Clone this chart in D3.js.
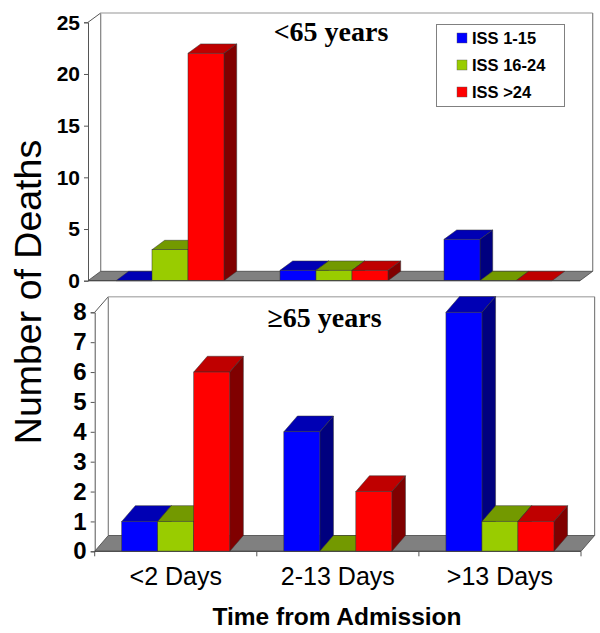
<!DOCTYPE html>
<html>
<head>
<meta charset="utf-8">
<style>
  html, body { margin: 0; padding: 0; background: #fff; }
  svg { display: block; }
</style>
<script src="https://cdn.jsdelivr.net/npm/d3@7/dist/d3.min.js"></script>
</head>
<body>
<svg id="chart" width="600" height="633"></svg>
<script>
"use strict";

const categories = ['<2 Days', '2-13 Days', '>13 Days'];
const seriesNames = ['ISS 1-15', 'ISS 16-24', 'ISS >24'];

// <65 years
const youngBlue = [0, 1, 4];
const youngGreen = [3, 1, 0];
const youngRed = [22, 1, 0];
const youngTicks = [0, 5, 10, 15, 20, 25];

// >=65 years
const oldBlue = [1, 4, 8];
const oldGreen = [1, 0, 1];
const oldRed = [6, 2, 1];
const oldTicks = [0, 1, 2, 3, 4, 5, 6, 7, 8];

const colours = [
  { front: '#0000ff', top: '#0000b4', side: '#00007f' },
  { front: '#99cc00', top: '#739900', side: '#4d6600' },
  { front: '#ff0000', top: '#bf0000', side: '#800000' }
];
const outline = '#333';

const svg = d3.select('#chart');

const drawPanel = (opts) => {
  const { left, right, bottom, top, dx, dy, wallTop, values, ticks, tickFont, title, titleX, titleY, xTicks } = opts;
  const g = svg.append('g');

  const x = d3.scaleBand().domain(categories).range([left, right]);
  const y = d3.scaleLinear().domain([ticks[0], ticks[ticks.length - 1]]).range([bottom, top]);

  // back wall
  g.append('path')
    .attr('d', `M${left},${top}L${left + dx},${wallTop}`)
    .attr('stroke', '#555').attr('fill', 'none');
  g.append('line')
    .attr('x1', left + dx).attr('x2', left + dx)
    .attr('y1', wallTop).attr('y2', bottom + dy)
    .attr('stroke', '#808080').attr('stroke-width', 1.2);
  g.append('line')
    .attr('x1', left + dx).attr('x2', right + dx)
    .attr('y1', wallTop).attr('y2', wallTop)
    .attr('stroke', '#b8b8b8').attr('stroke-width', 1.5);
  g.append('line')
    .attr('x1', right + dx).attr('x2', right + dx)
    .attr('y1', wallTop).attr('y2', bottom + dy)
    .attr('stroke', '#808080').attr('stroke-width', 1.2);

  // floor
  g.append('path')
    .attr('d', `M${left},${bottom}L${left + dx},${bottom + dy}L${right + dx},${bottom + dy}L${right},${bottom}Z`)
    .attr('fill', '#808080').attr('stroke', '#444').attr('stroke-width', 0.8);

  // bars, painted left to right so neighbours overlap like in the 3d view
  categories.forEach((cat, i) => {
    const mid = x(cat) + x.bandwidth() / 2;
    const xs = d3.scaleBand().domain(seriesNames).range([mid - 54, mid + 54]);
    seriesNames.forEach((name, s) => {
      const v = values[s][i];
      const x0 = xs(name);
      const x1 = x0 + xs.bandwidth();
      const yv = y(v);
      g.append('path')
        .attr('d', `M${x0},${yv}L${x0 + dx},${yv + dy}L${x1 + dx},${yv + dy}L${x1},${yv}Z`)
        .attr('fill', colours[s].top).attr('stroke', outline).attr('stroke-width', 0.5);
      if (v > 0) {
        g.append('path')
          .attr('d', `M${x1},${yv}L${x1 + dx},${yv + dy}L${x1 + dx},${bottom + dy}L${x1},${bottom}Z`)
          .attr('fill', colours[s].side).attr('stroke', outline).attr('stroke-width', 0.5);
        g.append('rect')
          .attr('x', x0).attr('y', yv)
          .attr('width', xs.bandwidth()).attr('height', bottom - yv)
          .attr('fill', colours[s].front).attr('stroke', outline).attr('stroke-width', 0.5);
      }
    });
  });

  // y axis
  const yAxis = g.append('g')
    .attr('transform', `translate(${left},0)`)
    .call(d3.axisLeft(y).tickValues(ticks).tickSize(4).tickPadding(4).tickFormat(d3.format('d')));
  yAxis.select('.domain').attr('stroke', '#555');
  yAxis.selectAll('.tick line').attr('stroke', '#555');
  yAxis.selectAll('text')
    .attr('fill', '#000')
    .style('font', `bold ${tickFont}px "Liberation Sans", Arial, sans-serif`);

  // baseline
  g.append('line')
    .attr('x1', left).attr('x2', right)
    .attr('y1', bottom).attr('y2', bottom)
    .attr('stroke', '#444');

  if (xTicks) {
    const edges = categories.map((c) => x(c)).concat([right]);
    g.selectAll('.xtick').data(edges).enter().append('line')
      .attr('class', 'xtick')
      .attr('x1', (d) => d).attr('x2', (d) => d)
      .attr('y1', bottom).attr('y2', bottom + 5)
      .attr('stroke', '#555');
    g.selectAll('.xlabel').data(categories).enter().append('text')
      .attr('class', 'xlabel')
      .attr('x', (d) => x(d) + x.bandwidth() / 2)
      .attr('y', bottom + 34)
      .attr('text-anchor', 'middle')
      .style('font', '25px "Liberation Sans", Arial, sans-serif')
      .text((d) => d);
  }

  g.append('text')
    .attr('x', titleX).attr('y', titleY)
    .attr('text-anchor', 'middle')
    .style('font', 'bold 28px "Liberation Serif", "Times New Roman", serif')
    .text(title);
};

drawPanel({
  left: 88, right: 580, bottom: 280.7, top: 22.3, dx: 12.7, dy: -9.4, wallTop: 13,
  values: [youngBlue, youngGreen, youngRed], ticks: youngTicks, tickFont: 21,
  title: '<65 years', titleX: 331, titleY: 41, xTicks: false
});

drawPanel({
  left: 94.7, right: 581, bottom: 551.3, top: 312.3, dx: 13.6, dy: -15.8, wallTop: 296.7,
  values: [oldBlue, oldGreen, oldRed], ticks: oldTicks, tickFont: 24,
  title: '\u226565 years', titleX: 324.5, titleY: 327, xTicks: true
});

// legend
const legend = svg.append('g');
legend.append('rect')
  .attr('x', 436.5).attr('y', 24.5).attr('width', 128).attr('height', 82)
  .attr('fill', '#fff').attr('stroke', '#808080');
const legendY = d3.scalePoint().domain(seriesNames).range([38, 92]);
seriesNames.forEach((name, s) => {
  legend.append('rect')
    .attr('x', 457).attr('y', legendY(name) - 5).attr('width', 10).attr('height', 10)
    .attr('fill', colours[s].front).attr('stroke', '#555').attr('stroke-width', 0.4);
  legend.append('text')
    .attr('x', 472).attr('y', legendY(name) + 6)
    .style('font', 'bold 16.5px "Liberation Sans", Arial, sans-serif')
    .text(name);
});

// axis titles
svg.append('text')
  .attr('transform', 'translate(41,292) rotate(-90)')
  .attr('text-anchor', 'middle')
  .style('font', '37.5px "Liberation Sans", Arial, sans-serif')
  .text('Number of Deaths');

svg.append('text')
  .attr('x', 337).attr('y', 625)
  .attr('text-anchor', 'middle')
  .style('font', 'bold 24.5px "Liberation Sans", Arial, sans-serif')
  .text('Time from Admission');
</script>
</body>
</html>
